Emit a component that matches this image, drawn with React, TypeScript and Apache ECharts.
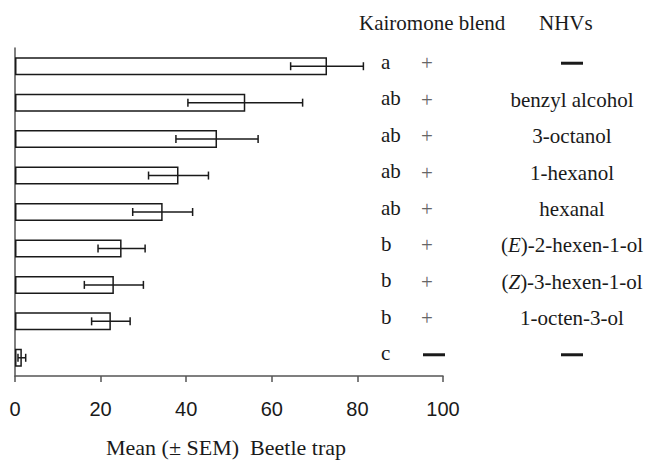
import React, { useEffect, useRef } from "react";
import * as echarts from "echarts";

const nhvs = ["—", "benzyl alcohol", "3-octanol", "1-hexanol", "hexanal", "(E)-2-hexen-1-ol", "(Z)-3-hexen-1-ol", "1-octen-3-ol", "—"];
const letters = ["a", "ab", "ab", "ab", "ab", "b", "b", "b", "c"];
const kairomone = ["+", "+", "+", "+", "+", "+", "+", "+", "—"];
const means = [72.9, 53.8, 47.2, 38.2, 34.5, 24.9, 23.1, 22.4, 1.6];
const sems = [8.5, 13.4, 9.6, 7.0, 7.0, 5.5, 6.9, 4.5, 0.9];

const SERIF = "'Liberation Serif', 'DejaVu Serif', serif";
const SANS = "'Liberation Sans', Arial, sans-serif";
const TXT = "#1a1a1a";
const FS = 21;

export default function App() {
  const ref = useRef<HTMLDivElement>(null);
  useEffect(() => {
    if (!ref.current) return;
    const chart = echarts.init(ref.current, undefined, { renderer: "svg" });
    const dashRich = { width: 22, height: 3, lineHeight: 3, backgroundColor: TXT };
    const hiddenAxis = {
      type: "category",
      data: nhvs.map((_, i) => String(i)),
      inverse: true,
      position: "right",
      axisLine: { show: false },
      axisTick: { show: false },
      splitLine: { show: false },
    };
    chart.setOption({
      animation: false,
      grid: { left: 15, right: 214, top: 48, bottom: 84, containLabel: false, outerBoundsMode: "none" },
      graphic: [
        { type: "text", left: 359, top: 12, style: { text: "Kairomone blend", font: `${FS}px ${SERIF}`, fill: TXT } },
        { type: "text", left: 539, top: 12, style: { text: "NHVs", font: `${FS}px ${SERIF}`, fill: TXT } },
      ],
      xAxis: {
        type: "value",
        min: 0,
        max: 100,
        interval: 20,
        name: "Mean (± SEM)  Beetle trap",
        nameLocation: "middle",
        nameGap: 60,
        nameTextStyle: { fontFamily: SERIF, fontSize: 22, color: TXT, padding: [0, 6, 0, 0] },
        axisLine: { show: true, lineStyle: { color: "#555", width: 1.5 } },
        axisTick: { show: true, length: 6, lineStyle: { color: "#555", width: 1.5 } },
        splitLine: { show: false },
        axisLabel: { fontFamily: SANS, fontSize: 20, color: TXT, margin: 23 },
      },
      yAxis: [
        {
          type: "category",
          data: nhvs.map((_, i) => String(i)),
          inverse: true,
          position: "left",
          axisLine: { show: true, lineStyle: { color: "#555", width: 1.5 } },
          axisTick: { show: false },
          axisLabel: { show: false },
          splitLine: { show: false },
        },
        {
          ...hiddenAxis,
          offset: -62,
          axisLabel: {
            margin: 0,
            align: "left",
            fontFamily: SERIF,
            fontSize: FS,
            color: TXT,
            formatter: (_v: string, i: number) => `{t|${letters[i]}}`,
            rich: { t: { fontFamily: SERIF, fontSize: FS, color: TXT, padding: [0, 0, 9, 0] } },
          },
        },
        {
          ...hiddenAxis,
          offset: -16,
          axisLabel: {
            margin: 0,
            align: "center",
            fontFamily: SERIF,
            fontSize: FS,
            color: "#666",
            padding: [0, 0, 6, 0],
            formatter: (_v: string, i: number) => (kairomone[i] === "—" ? "{s| }{d| }" : kairomone[i]),
            rich: { d: dashRich, s: { width: 14, height: 3 } },
          },
        },
        {
          ...hiddenAxis,
          offset: 129,
          axisLabel: {
            margin: 0,
            align: "center",
            fontFamily: SERIF,
            fontSize: FS,
            color: TXT,
            padding: [0, 0, 6, 0],
            formatter: (_v: string, i: number) => {
              const n = nhvs[i];
              if (n === "—") return "{d| }";
              return n.replace(/\((E|Z)\)/, "({i|$1})");
            },
            rich: {
              d: dashRich,
              i: { fontFamily: SERIF, fontSize: FS, fontStyle: "italic", color: TXT },
            },
          },
        },
      ],
      series: [
        {
          type: "bar",
          yAxisIndex: 0,
          data: means,
          barWidth: 18,
          itemStyle: { color: "#ffffff", borderColor: "#1a1a1a", borderWidth: 1.5 },
        },
        {
          type: "custom",
          yAxisIndex: 0,
          data: means.map((m, i) => [m - sems[i], m + sems[i], i]),
          encode: { x: [0, 1], y: 2 },
          renderItem: (_params: any, api: any) => {
            const lo = api.coord([api.value(0), api.value(2)]);
            const hi = api.coord([api.value(1), api.value(2)]);
            const h = 4;
            const style = { stroke: "#1a1a1a", lineWidth: 1.5, fill: "none" };
            return {
              type: "group",
              children: [
                { type: "line", shape: { x1: lo[0], y1: lo[1], x2: hi[0], y2: hi[1] }, style },
                { type: "line", shape: { x1: lo[0], y1: lo[1] - h, x2: lo[0], y2: lo[1] + h }, style },
                { type: "line", shape: { x1: hi[0], y1: hi[1] - h, x2: hi[0], y2: hi[1] + h }, style },
              ],
            };
          },
          z: 5,
        },
      ],
    });
    return () => chart.dispose();
  }, []);
  return <div ref={ref} style={{ width: 657, height: 460, position: "absolute", left: 0, top: 0 }} />;
}
